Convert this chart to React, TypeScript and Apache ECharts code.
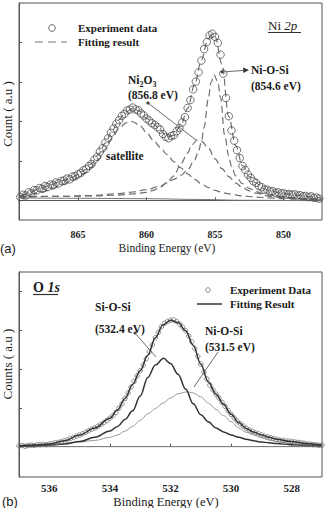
import React, { useEffect, useRef } from 'react';
import * as echarts from 'echarts';

// ---------- Panel (a): Ni 2p ----------
const ni2pTicks = [865, 860, 855, 850];
const ni2pExperiment = [
  [869.2,0.08],[869.0,0.14],[868.8,0.12],[868.6,0.2],[868.4,0.18],[868.2,0.26],[868.0,0.25],[867.8,0.31],[867.6,0.29],[867.4,0.36],
  [867.2,0.34],[867.0,0.4],[866.8,0.39],[866.6,0.45],[866.4,0.43],[866.2,0.49],[866.0,0.5],[865.8,0.55],[865.6,0.53],[865.4,0.6],
  [865.2,0.61],[865.0,0.66],[864.8,0.69],[864.6,0.76],[864.4,0.79],[864.2,0.87],[864.0,0.92],[863.8,1.03],[863.6,1.1],[863.4,1.23],
  [863.2,1.32],[863.0,1.46],[862.8,1.57],[862.6,1.71],[862.4,1.82],[862.2,1.94],[862.0,2.03],[861.8,2.14],[861.6,2.19],[861.4,2.28],
  [861.2,2.3],[861.0,2.35],[860.8,2.3],[860.6,2.28],[860.4,2.2],[860.2,2.15],[860.0,2.07],[859.8,2.02],[859.6,1.95],[859.4,1.91],
  [859.2,1.85],[859.0,1.79],[858.8,1.68],[858.6,1.61],[858.4,1.57],[858.2,1.63],[858.0,1.65],[857.8,1.75],[857.6,1.83],[857.4,1.97],
  [857.2,2.11],[857.0,2.34],[856.8,2.54],[856.6,2.81],[856.4,3.01],[856.2,3.24],[856.0,3.54],[855.8,3.83],[855.6,4.01],[855.4,4.18],
  [855.2,4.22],[855.0,4.14],[854.8,3.99],[854.6,3.69],[854.4,3.21],[854.2,2.59],[854.0,2.13],[853.8,1.77],[853.6,1.51],[853.4,1.27],
  [853.2,1.07],[853.0,0.87],[852.8,0.77],[852.6,0.65],[852.4,0.57],[852.2,0.48],[852.0,0.44],[851.8,0.36],[851.6,0.33],[851.4,0.27],
  [851.2,0.27],[851.0,0.23],[850.8,0.23],[850.6,0.19],[850.4,0.2],[850.2,0.17],[850.0,0.18],[849.8,0.15],[849.6,0.16],[849.4,0.14],
  [849.2,0.15],[849.0,0.12],[848.8,0.13],[848.6,0.1],[848.4,0.11],[848.2,0.08],[848.0,0.1],[847.8,0.06],[847.6,0.07],[847.4,0.04],
];
const ni2pFit = [
  [869.2,0.1],[868.5,0.2],[868,0.27],[867.5,0.33],[867,0.39],[866.5,0.45],[866,0.51],[865.5,0.57],[865,0.65],[864.5,0.77],
  [864,0.93],[863.5,1.16],[863,1.45],[862.5,1.77],[862,2.04],[861.5,2.24],[861,2.33],[860.5,2.25],[860,2.08],[859.5,1.94],
  [859,1.78],[858.5,1.6],[858,1.65],[857.5,1.9],[857,2.33],[856.5,2.92],[856,3.55],[855.5,4.1],[855.2,4.22],[855,4.15],
  [854.5,3.45],[854,2.12],[853.5,1.39],[853,0.88],[852.5,0.6],[852,0.43],[851.5,0.3],[851,0.24],[850,0.17],[849,0.13],
  [848,0.09],[847.2,0.05],
];
const ni2pSatellite = [
  [869.3,0.12],[868.5,0.15],[868,0.18],[867.5,0.22],[867,0.27],[866.5,0.33],[866,0.4],[865.5,0.48],[865,0.57],[864.5,0.69],
  [864,0.84],[863.5,1.04],[863,1.3],[862.5,1.58],[862,1.82],[861.5,1.96],[861.2,2.0],[861,1.99],[860.5,1.9],[860,1.72],
  [859.5,1.52],[859,1.34],[858.5,1.16],[858,0.98],[857.5,0.82],[857,0.67],[856.5,0.53],[856,0.42],[855.5,0.32],[855,0.25],
  [854.5,0.2],[854,0.16],[853,0.11],[852,0.08],[851,0.06],[850,0.04],[849,0.03],[847.2,0.02],
];
const ni2pNi2O3 = [
  [869.3,0.1],[866,0.1],[864,0.11],[862,0.13],[861,0.16],[860,0.2],[859.5,0.25],[859,0.33],[858.5,0.45],[858,0.62],
  [857.5,0.92],[857,1.2],[856.7,1.4],[856.3,1.53],[856,1.5],[855.5,1.33],[855,1.05],[854.5,0.8],[854,0.6],[853.5,0.44],
  [853,0.32],[852.5,0.24],[852,0.18],[851,0.1],[850,0.06],[849,0.04],[847.2,0.02],
];
const ni2pNiOSi = [
  [869.3,0.08],[866,0.1],[864,0.12],[862,0.17],[861,0.21],[860,0.27],[859,0.36],[858.5,0.44],[858,0.53],[857.5,0.63],
  [857,0.77],[856.5,1.02],[856.2,1.25],[856,1.48],[855.8,1.85],[855.5,2.55],[855.3,2.98],[855.07,3.18],[854.8,3.0],[854.6,2.6],
  [854.3,1.65],[854,1.12],[853.8,0.86],[853.5,0.62],[853,0.42],[852.5,0.3],[852,0.22],[851.5,0.17],[851,0.13],[850,0.08],
  [849,0.05],[847.2,0.02],
];
const ni2pBackground = [[869.3,0.06],[865,0.05],[860,0.04],[856,0.02],[853,0.0],[847.2,-0.01]];

// ---------- Panel (b): O 1s ----------
const o1sTicks = [536, 534, 532, 530, 528];
const o1sExperiment = [
  [537.0,0.02],[536.9,0.03],[536.8,0.01],[536.7,0.03],[536.6,0.04],[536.5,0.03],[536.4,0.05],[536.3,0.05],[536.2,0.06],[536.1,0.05],
  [536.0,0.07],[535.9,0.08],[535.8,0.1],[535.7,0.11],[535.6,0.13],[535.5,0.15],[535.4,0.18],[535.3,0.21],[535.2,0.24],[535.1,0.27],
  [535.0,0.3],[534.9,0.33],[534.8,0.37],[534.7,0.41],[534.6,0.45],[534.5,0.48],[534.4,0.52],[534.3,0.57],[534.2,0.62],[534.1,0.67],
  [534.0,0.73],[533.9,0.8],[533.8,0.88],[533.7,0.99],[533.6,1.1],[533.5,1.24],[533.4,1.38],[533.3,1.53],[533.2,1.68],[533.1,1.82],
  [533.0,1.95],[532.9,2.1],[532.8,2.26],[532.7,2.44],[532.6,2.62],[532.5,2.8],[532.4,2.94],[532.3,3.08],[532.2,3.17],[532.1,3.22],
  [532.0,3.25],[531.9,3.26],[531.8,3.22],[531.7,3.15],[531.6,3.07],[531.5,2.98],[531.4,2.85],[531.3,2.7],[531.2,2.52],[531.1,2.32],
  [531.0,2.12],[530.9,1.92],[530.8,1.74],[530.7,1.58],[530.6,1.46],[530.5,1.35],[530.4,1.25],[530.3,1.14],[530.2,1.04],[530.1,0.93],
  [530.0,0.83],[529.9,0.74],[529.8,0.66],[529.7,0.59],[529.6,0.53],[529.5,0.47],[529.4,0.43],[529.3,0.39],[529.2,0.36],[529.1,0.33],
  [529.0,0.3],[528.9,0.27],[528.8,0.25],[528.7,0.23],[528.6,0.21],[528.5,0.19],[528.4,0.17],[528.3,0.16],[528.2,0.15],[528.1,0.14],
  [528.0,0.13],[527.9,0.12],[527.8,0.11],[527.7,0.1],[527.6,0.09],[527.5,0.07],[527.4,0.07],[527.3,0.05],[527.2,0.05],[527.1,0.03],
  [527.0,0.04],
];
const o1sFit = [
  [537,0.02],[536.5,0.04],[536,0.07],[535.5,0.15],[535,0.3],[534.5,0.48],[534,0.73],[533.75,0.94],[533.5,1.24],[533.25,1.6],
  [533,1.95],[532.75,2.35],[532.5,2.8],[532.25,3.13],[532,3.25],[531.75,3.19],[531.5,2.98],[531.25,2.61],[531,2.12],[530.75,1.66],
  [530.5,1.35],[530.25,1.09],[530,0.83],[529.75,0.62],[529.5,0.47],[529.25,0.37],[529,0.3],[528.75,0.24],[528.5,0.19],[528,0.13],
  [527.5,0.08],[527,0.04],
];
const o1sSiOSi = [
  [537,0.01],[536.5,0.02],[536,0.04],[535.5,0.07],[535,0.13],[534.5,0.24],[534,0.4],[533.75,0.52],[533.5,0.7],[533.25,0.92],
  [533,1.3],[532.75,1.78],[532.5,2.1],[532.23,2.27],[532,2.14],[531.75,1.86],[531.5,1.48],[531.25,1.1],[531,0.82],[530.75,0.64],
  [530.5,0.48],[530.25,0.38],[530,0.3],[529.75,0.24],[529.5,0.19],[529.25,0.15],[529,0.12],[528.75,0.1],[528.5,0.08],[528,0.05],
  [527.5,0.03],[527,0.02],
];
const o1sNiOSi = [
  [537,0.03],[536.5,0.04],[536,0.06],[535.5,0.08],[535,0.12],[534.5,0.16],[534,0.24],[533.75,0.3],[533.5,0.4],[533.25,0.52],
  [533,0.68],[532.75,0.84],[532.5,0.98],[532.25,1.12],[532,1.25],[531.75,1.36],[531.45,1.41],[531.25,1.38],[531,1.28],[530.75,1.12],
  [530.5,0.96],[530.25,0.8],[530,0.64],[529.75,0.48],[529.5,0.37],[529.25,0.3],[529,0.23],[528.75,0.17],[528.5,0.13],[528,0.08],
  [527.5,0.05],[527,0.03],
];
const o1sBackground = [[537,0],[527,0]];

const SERIF = 'Liberation Serif';
const SANS = 'Liberation Sans';

function txt(x: number, y: number, text: string, fontSize: number, bold = true, extra: any = {}) {
  return {
    type: 'text', x, y, silent: true,
    style: { text, fontSize, fontFamily: SERIF, fontWeight: bold ? 'bold' : 'normal', fill: '#1a1a1a', verticalAlign: 'middle', align: 'left', ...extra },
  };
}
function ln(x1: number, y1: number, x2: number, y2: number, stroke = '#333', lineWidth = 1, lineDash?: number[]) {
  return { type: 'line', silent: true, shape: { x1, y1, x2, y2 }, style: { stroke, lineWidth, lineDash } };
}
function dot(cx: number, cy: number, r: number, fill = '#333', stroke = 'none') {
  return { type: 'circle', silent: true, shape: { cx, cy, r }, style: { fill, stroke, lineWidth: 1 } };
}

function lineSeries(data: number[][], idx: number, color: string, width: number, dashed: boolean, z = 2) {
  return {
    type: 'line', xAxisIndex: idx, yAxisIndex: idx, data, showSymbol: false, symbol: 'none', silent: true, z,
    smooth: 0.35, smoothMonotone: 'x',
    lineStyle: { color, width, type: dashed ? [7, 4] : 'solid' },
  };
}

export default function App() {
  const ref = useRef<HTMLDivElement>(null);
  useEffect(() => {
    const chart = echarts.init(ref.current!, null, { renderer: 'svg' });
    const axisLabelTop = { show: true, customValues: ni2pTicks, fontSize: 10, fontWeight: 'bold', fontFamily: SERIF, color: '#222', margin: 9 };
    const axisLabelBot = { show: true, customValues: o1sTicks, fontSize: 11, fontWeight: 'bold', fontFamily: SERIF, color: '#222', margin: 5 };
    const option: any = {
      animation: false,
      backgroundColor: '#fff',
      textStyle: { fontFamily: SERIF },
      grid: [
        { left: 19, top: 3, right: 5, height: 217, show: true, borderColor: '#555', borderWidth: 1, backgroundColor: 'transparent' },
        { left: 19, top: 272, right: 5, height: 205, show: true, borderColor: '#555', borderWidth: 1, backgroundColor: 'transparent' },
      ],
      xAxis: [
        {
          type: 'value', gridIndex: 0, min: 847.2, max: 869.3, inverse: true,
          axisLine: { show: true, lineStyle: { color: '#555' } },
          axisTick: { show: true, inside: true, length: 3, customValues: ni2pTicks, lineStyle: { color: '#555' } },
          axisLabel: axisLabelTop, splitLine: { show: false },
        },
        {
          type: 'value', gridIndex: 1, min: 527, max: 537, inverse: true,
          axisLine: { show: true, lineStyle: { color: '#555' } },
          axisTick: { show: true, inside: true, length: 3, customValues: o1sTicks, lineStyle: { color: '#555' } },
          axisLabel: axisLabelBot, splitLine: { show: false },
        },
      ],
      yAxis: [
        {
          type: 'value', gridIndex: 0, min: -0.5, max: 5,
          axisLine: { show: true, lineStyle: { color: '#555' } },
          axisTick: { show: true, inside: true, length: 3, customValues: [0, 1, 2, 3, 4], lineStyle: { color: '#555' } },
          axisLabel: { show: false }, splitLine: { show: false },
        },
        {
          type: 'value', gridIndex: 1, min: -0.78, max: 4.49,
          axisLine: { show: true, lineStyle: { color: '#555' } },
          axisTick: { show: true, inside: true, length: 3, customValues: [0, 1, 2, 3, 4], lineStyle: { color: '#555' } },
          axisLabel: { show: false }, splitLine: { show: false },
        },
      ],
      series: [
        lineSeries(ni2pBackground, 0, '#777', 1, false),
        lineSeries(ni2pSatellite, 0, '#6f6f6f', 1.2, true),
        lineSeries(ni2pNi2O3, 0, '#6f6f6f', 1.2, true),
        lineSeries(ni2pNiOSi, 0, '#6f6f6f', 1.2, true),
        lineSeries(ni2pFit, 0, '#666', 1.1, true),
        {
          type: 'scatter', xAxisIndex: 0, yAxisIndex: 0, data: ni2pExperiment, symbol: 'circle', symbolSize: 7.5, silent: true, z: 3,
          itemStyle: { color: 'rgba(255,255,255,0)', borderColor: '#505050', borderWidth: 1 },
        },
        lineSeries(o1sBackground, 1, '#888', 1, false),
        lineSeries(o1sNiOSi, 1, '#999', 1, false),
        lineSeries(o1sSiOSi, 1, '#333', 1.5, false),
        {
          type: 'scatter', xAxisIndex: 1, yAxisIndex: 1, data: o1sExperiment, symbol: 'circle', symbolSize: 4.5, silent: true, z: 3,
          itemStyle: { color: 'rgba(255,255,255,0)', borderColor: '#777', borderWidth: 1 },
        },
        lineSeries(o1sFit, 1, '#333', 1.5, false, 4),
      ],
      graphic: [
        // ---- panel (a) ----
        dot(52, 28, 3.3, 'none', '#666'),
        txt(78, 28, 'Experiment data', 11),
        ln(35, 42, 67, 42, '#777', 1.2, [8, 5]),
        txt(78, 42, 'Fitting result', 11),
        {
          type: 'text', x: 268, y: 25, silent: true,
          style: {
            text: '{n|Ni }{i|2p}', verticalAlign: 'middle', align: 'left',
            rich: {
              n: { fontSize: 13, fontFamily: SERIF, fill: '#1a1a1a' },
              i: { fontSize: 13, fontFamily: SERIF, fontStyle: 'italic', fill: '#1a1a1a' },
            },
          },
        },
        ln(268, 32.5, 301, 32.5, '#333', 1),
        {
          type: 'text', x: 128, y: 80, silent: true,
          style: {
            text: '{a|Ni}{s|2}{a|O}{s|3}', verticalAlign: 'middle', align: 'left',
            rich: {
              a: { fontSize: 11.5, fontWeight: 'bold', fontFamily: SERIF, fill: '#1a1a1a', lineHeight: 16, verticalAlign: 'middle' },
              s: { fontSize: 8, fontWeight: 'bold', fontFamily: SERIF, fill: '#1a1a1a', lineHeight: 16, verticalAlign: 'bottom' },
            },
          },
        },
        txt(128, 95, '(856.8 eV)', 11.5),
        ln(148, 103, 196, 140, '#444', 0.8),
        dot(148, 103, 1.6, '#444'),
        txt(251, 70, 'Ni-O-Si', 11.5),
        txt(251, 86, '(854.6 eV)', 11.5),
        ln(222, 72, 244, 70.4, '#444', 0.8),
        dot(222, 72, 1.5, '#444'),
        { type: 'polygon', silent: true, shape: { points: [[249, 70], [243, 67.5], [243.4, 73]] }, style: { fill: '#333' } },
        txt(106, 156, 'satellite', 11.5),
        txt(0, 248, '(a)', 13, false, { fontFamily: SANS }),
        txt(167, 248, 'Binding Energy (eV)', 11.5, false, { align: 'center' }),
        { type: 'text', x: 7, y: 114, rotation: Math.PI / 2, silent: true,
          style: { text: 'Count ( a.u )', fontSize: 13, fontFamily: SERIF, fill: '#1a1a1a', align: 'center', verticalAlign: 'middle' } },
        // ---- panel (b) ----
        {
          type: 'text', x: 33, y: 287, silent: true,
          style: {
            text: '{n|O }{i|1s}', verticalAlign: 'middle', align: 'left',
            rich: {
              n: { fontSize: 14, fontWeight: 'bold', fontFamily: SERIF, fill: '#1a1a1a' },
              i: { fontSize: 14, fontWeight: 'bold', fontStyle: 'italic', fontFamily: SERIF, fill: '#1a1a1a' },
            },
          },
        },
        ln(33, 294.5, 58, 294.5, '#333', 1.2),
        dot(208, 290, 2.3, 'none', '#888'),
        txt(230, 290, 'Experiment Data', 11),
        ln(197, 304, 222, 304, '#333', 1.5),
        txt(230, 304, 'Fitting Result', 11),
        txt(95, 307, 'Si-O-Si', 11.5),
        txt(95, 329, '(532.4 eV)', 11.5),
        ln(135, 333, 156, 357, '#444', 0.8),
        dot(135, 333, 1.5, '#444'),
        txt(205, 331, 'Ni-O-Si', 11.5),
        txt(205, 347, '(531.5 eV)', 11.5),
        ln(218, 352, 194, 387, '#444', 0.8),
        txt(2, 501, '(b)', 13, false, { fontFamily: SANS }),
        txt(166, 502, 'Binding Energy (eV)', 12.5, false, { align: 'center' }),
        { type: 'text', x: 7, y: 364, rotation: Math.PI / 2, silent: true,
          style: { text: 'Counts ( a.u )', fontSize: 13, fontFamily: SERIF, fill: '#1a1a1a', align: 'center', verticalAlign: 'middle' } },
      ],
    };
    chart.setOption(option);
    return () => chart.dispose();
  }, []);
  return <div ref={ref} style={{ position: 'fixed', left: 0, top: 0, width: 327, height: 508, background: '#fff' }} />;
}
